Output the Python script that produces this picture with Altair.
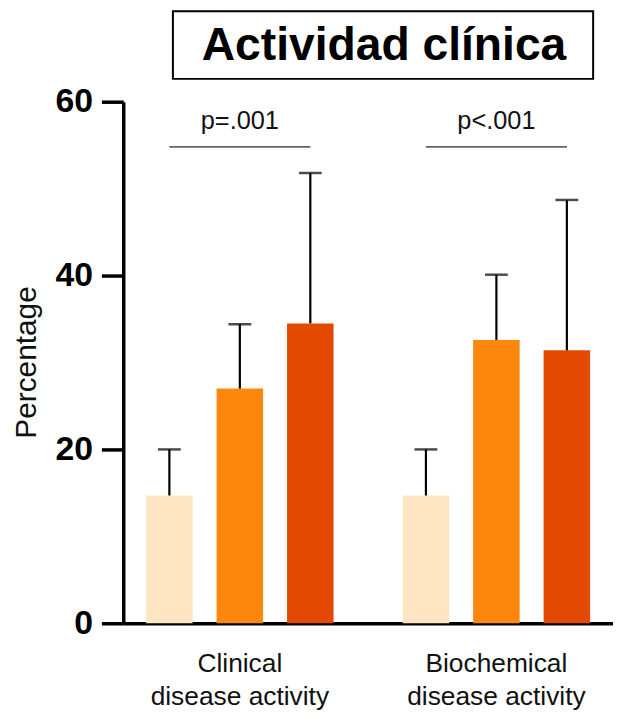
import altair as alt
import pandas as pd

groups = ["Clinical disease activity", "Biochemical disease activity"]
series = ["A", "B", "C"]
colors = ["#FEE5C1", "#FD870D", "#E34A00"]
values = {
    "Clinical disease activity": [14.7, 27.0, 34.5],
    "Biochemical disease activity": [14.7, 32.6, 31.4],
}
errors_top = {
    "Clinical disease activity": [20.0, 34.4, 51.8],
    "Biochemical disease activity": [20.0, 40.1, 48.7],
}
p_labels = ["p=.001", "p<.001"]
bracket_y = 54.8
p_text_y = 56.9

rows = []
for g in groups:
    for i, s in enumerate(series):
        rows.append({"group": g, "series": s, "value": values[g][i], "err": errors_top[g][i]})
df = pd.DataFrame(rows)
pdf = pd.DataFrame({"group": groups, "label": p_labels, "by": [bracket_y] * 2, "ty": [p_text_y] * 2})

xscale = alt.Scale(domain=groups, paddingInner=0.176, paddingOuter=0.0425)
xoff = alt.Scale(domain=series, paddingInner=0.34, paddingOuter=0.17)
yscale = alt.Scale(domain=[0, 60], nice=False)

x_enc = alt.X(
    "group:N",
    scale=xscale,
    sort=groups,
    axis=alt.Axis(
        title=None,
        labelAngle=0,
        labelExpr="datum.value == 'Clinical disease activity' ? ['Clinical', 'disease activity'] : ['Biochemical', 'disease activity']",
        labelFont="Liberation Sans",
        labelFontSize=26.5,
        labelColor="#111111",
        labelLineHeight=33,
        labelPadding=28,
        ticks=False,
        domainWidth=3.5,
        domainColor="black",
        labelBaseline="top",
    ),
)

bars = alt.Chart(df).mark_bar().encode(
    x=x_enc,
    xOffset=alt.XOffset("series:N", scale=xoff, sort=series),
    y=alt.Y(
        "value:Q",
        scale=yscale,
        axis=alt.Axis(
            values=[0, 20, 40, 60],
            title="Percentage",
            titleFont="Liberation Sans",
            titleFontSize=30,
            titleFontWeight="normal",
            titleColor="#111111",
            titleAngle=270,
            titleX=-97,
            titleY=262,
            titleAlign="center",
            titleBaseline="middle",
            labelFont="Liberation Sans",
            labelFontSize=34,
            labelFontWeight="bold",
            labelColor="black",
            labelPadding=9,
            tickSize=22,
            tickWidth=3.5,
            tickColor="black",
            domainWidth=3.5,
            domainColor="black",
            grid=False,
        ),
    ),
    color=alt.Color("series:N", scale=alt.Scale(domain=series, range=colors), legend=None),
)

err_line = alt.Chart(df).mark_rule(color="black", strokeWidth=2.2).encode(
    x=alt.X("group:N", scale=xscale, sort=groups),
    xOffset=alt.XOffset("series:N", scale=xoff, sort=series),
    y=alt.Y("value:Q", scale=yscale),
    y2="err:Q",
)

err_cap = alt.Chart(df).mark_tick(color="black", thickness=2.5, size=23, orient="horizontal").encode(
    x=alt.X("group:N", scale=xscale, sort=groups),
    xOffset=alt.XOffset("series:N", scale=xoff, sort=series),
    y=alt.Y("err:Q", scale=yscale),
)

bracket = alt.Chart(pdf).mark_tick(color="#222222", thickness=1.6, size=142, orient="horizontal").encode(
    x=alt.X("group:N", scale=xscale, sort=groups),
    y=alt.Y("by:Q", scale=yscale),
)

ptext = alt.Chart(pdf).mark_text(
    font="Liberation Sans", fontSize=25.5, color="#111111", baseline="alphabetic", align="center"
).encode(
    x=alt.X("group:N", scale=xscale, sort=groups),
    y=alt.Y("ty:Q", scale=yscale),
    text="label:N",
)

title_box = alt.Chart(pdf.head(1)).mark_rect(
    fill="white", stroke="black", strokeWidth=2, clip=False
).encode(
    x=alt.value(50), x2=alt.value(473), y=alt.value(-91), y2=alt.value(-23)
)
title_text = alt.Chart(pdf.head(1)).mark_text(
    text="Actividad clínica",
    font="Liberation Sans",
    fontSize=46.5,
    fontWeight="bold",
    color="black",
    align="center",
    baseline="alphabetic",
    clip=False,
).encode(x=alt.value(262.5), y=alt.value(-42))

chart = alt.layer(bars, err_line, err_cap, bracket, ptext, title_box, title_text).properties(
    width=493,
    height=525,
    autosize=alt.AutoSizeParams(type="none"),
    padding={"left": 116, "top": 92, "right": 0, "bottom": 90},
).configure(background="white", view=alt.ViewConfig(stroke=None))

chart.save("out.html", embed_options={"renderer": "svg", "actions": False})
